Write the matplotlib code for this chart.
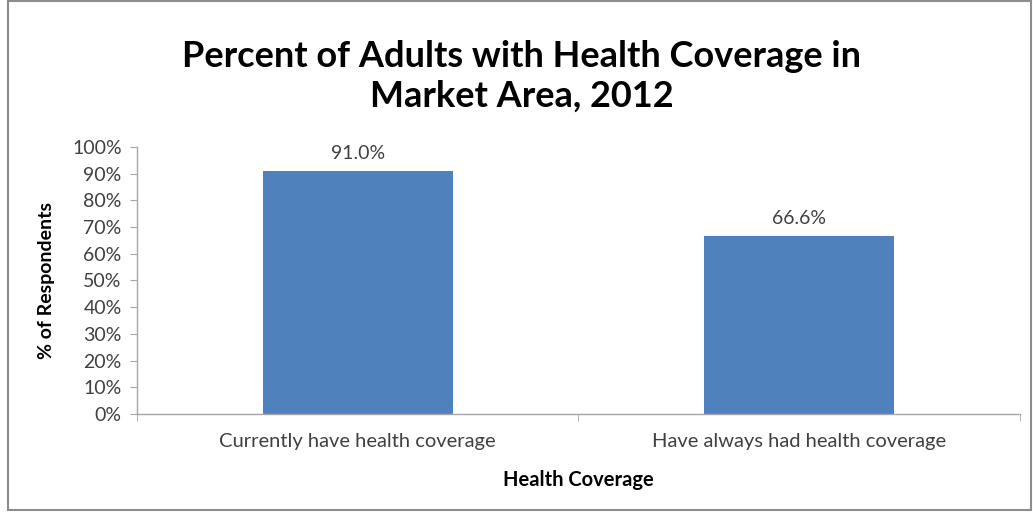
import numpy as np
import matplotlib
matplotlib.use("Agg")
import matplotlib.pyplot as plt
from matplotlib.patches import Rectangle
from matplotlib.ticker import FuncFormatter

plt.rcParams['font.family'] = ['Lato', 'DejaVu Sans']

# chart data
categories = ["Currently have health coverage", "Have always had health coverage"]
values = [91.0, 66.6]
bar_labels = ["91.0%", "66.6%"]
y_ticks = [0, 10, 20, 30, 40, 50, 60, 70, 80, 90, 100]

fig = plt.figure(figsize=(10.33, 5.12), dpi=100)
ax = fig.add_axes([0.1326, 0.1914, 0.8548, 0.5215])

x = np.arange(len(categories))
bars = ax.bar(x, values, width=0.43, color="#4F81BD", zorder=2)

for b, lab in zip(bars, bar_labels):
    ax.text(b.get_x() + b.get_width() / 2, b.get_height() + 3.5, lab,
            ha="center", va="bottom", fontsize=14, color="#404040")

ax.set_xlim(-0.5, len(categories) - 0.5)
ax.set_ylim(0, 100)
ax.set_yticks(y_ticks)
ax.yaxis.set_major_formatter(FuncFormatter(lambda v, p: f"{int(v)}%"))
ax.set_xticks(x)
ax.set_xticklabels(categories)
ax.set_xticks([-0.5, 0.5, 1.5], minor=True)
ax.tick_params(axis="x", which="major", length=0, pad=14, labelsize=14.5, labelcolor="#404040")
ax.tick_params(axis="x", which="minor", length=5, color="#A6A6A6", direction="out")
ax.tick_params(axis="y", length=5, color="#A6A6A6", labelsize=14, labelcolor="#404040", pad=6)

for s in ["top", "right"]:
    ax.spines[s].set_visible(False)
for s in ["left", "bottom"]:
    ax.spines[s].set_color("#A6A6A6")
    ax.spines[s].set_linewidth(1.0)

ax.set_ylabel("% of Respondents", fontsize=14, fontweight="bold", color="black", labelpad=12)
ax.set_xlabel("Health Coverage", fontsize=14.5, fontweight="bold", color="black", labelpad=14)

fig.text(0.505, 0.85, "Percent of Adults with Health Coverage in\nMarket Area, 2012",
         ha="center", va="center", fontsize=26, fontweight="bold", color="black",
         linespacing=1.25)

fig.patches.append(Rectangle((0.008, 0.004), 0.99, 0.994, transform=fig.transFigure,
                             fill=False, edgecolor="#8C8C8C", linewidth=1.5))

fig.savefig("out.png", dpi=100)
